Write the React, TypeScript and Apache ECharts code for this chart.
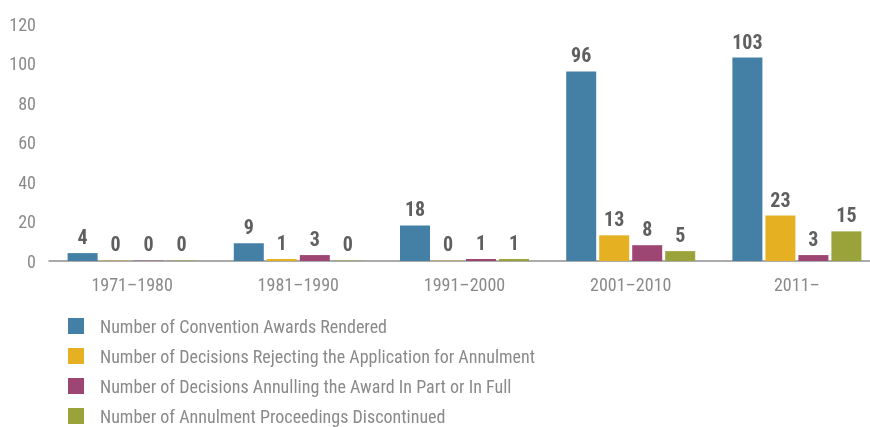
import React, { useEffect, useRef } from "react";
import * as echarts from "echarts";

const categories = ["1971–1980", "1981–1990", "1991–2000", "2001–2010", "2011–"];
const seriesNames = [
  "Number of Convention Awards Rendered",
  "Number of Decisions Rejecting the Application for Annulment",
  "Number of Decisions Annulling the Award In Part or In Full",
  "Number of Annulment Proceedings Discontinued",
];
const awardsRendered = [4, 9, 18, 96, 103];
const rejecting = [0, 1, 0, 13, 23];
const annulling = [0, 3, 1, 8, 3];
const discontinued = [0, 0, 1, 5, 15];
const yTicks = { min: 0, max: 120, interval: 20 };

const colors = ["#4480a5", "#e5b122", "#9d4673", "#9aa23a"];
const FONT = "'Liberation Sans Narrow', 'Arial Narrow', 'Roboto Condensed', Roboto, sans-serif";

export default function App() {
  const ref = useRef<HTMLDivElement>(null);
  useEffect(() => {
    if (!ref.current) return;
    const chart = echarts.init(ref.current, undefined, { renderer: "svg" });
    const allData = [awardsRendered, rejecting, annulling, discontinued];
    chart.setOption({
      animation: false,
      textStyle: { fontFamily: FONT },
      grid: { left: 49, right: 0, top: 24, bottom: 166, containLabel: false },
      legend: {
        orient: "vertical",
        left: 68,
        top: 317,
        height: 110,
        padding: 0,
        itemWidth: 16,
        itemHeight: 16,
        itemGap: 12,
        icon: "rect",
        data: seriesNames,
        textStyle: {
          fontFamily: FONT,
          fontSize: 18,
          color: "#8a8a8a",
          lineHeight: 18,
          padding: [0, 0, 0, 11],
        },
      },
      xAxis: {
        type: "category",
        data: categories,
        axisLine: { show: true, lineStyle: { color: "#8f8f8f", width: 1.5 } },
        axisTick: { show: false },
        axisLabel: { color: "#8a8a8a", fontSize: 18, margin: 14, fontFamily: FONT },
      },
      yAxis: {
        type: "value",
        min: yTicks.min,
        max: yTicks.max,
        interval: yTicks.interval,
        axisLine: { show: false },
        axisTick: { show: false },
        splitLine: { show: false },
        axisLabel: { color: "#8a8a8a", fontSize: 18, margin: 13, fontFamily: FONT },
      },
      series: seriesNames.map((name, i) => ({
        name,
        type: "bar",
        barWidth: 30,
        barGap: "10%",
        barMinHeight: 1,
        itemStyle: { color: colors[i] },
        data: allData[i].map((v) => (v === 0 ? { value: v, itemStyle: { opacity: 0.35 } } : v)),
        label: {
          show: true,
          position: "top",
          distance: 6,
          color: "#5f5f5f",
          fontSize: 20,
          fontWeight: "bold",
          fontFamily: FONT,
          opacity: 1,
        },
      })),
    });
    return () => chart.dispose();
  }, []);
  return (
    <div style={{ position: "fixed", left: 0, top: 0, width: 870, height: 427, overflow: "hidden" }}>
      <div ref={ref} style={{ width: 880, height: 427 }} />
    </div>
  );
}
